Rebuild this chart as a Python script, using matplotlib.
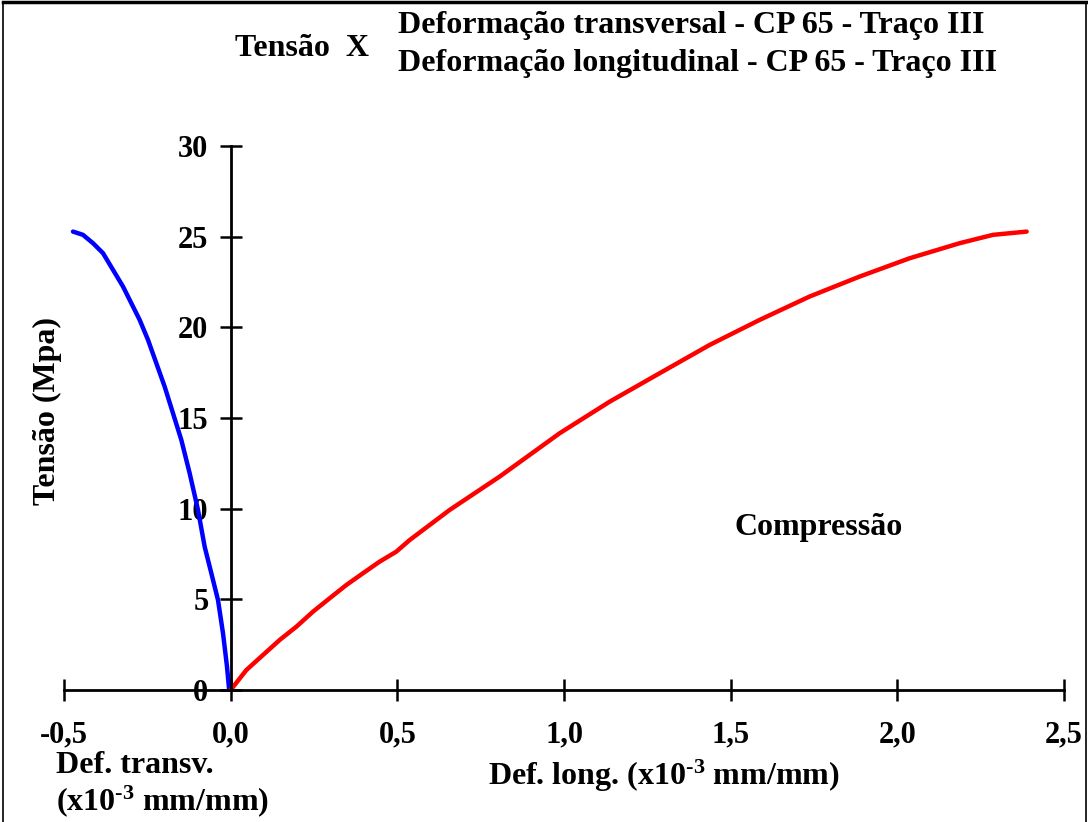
import matplotlib
matplotlib.use("Agg")
import matplotlib.pyplot as plt
from matplotlib.lines import Line2D

plt.rcParams['font.family'] = 'Liberation Serif'
plt.rcParams['font.weight'] = 'bold'
plt.rcParams['mathtext.fontset'] = 'custom'
plt.rcParams['mathtext.rm'] = 'Liberation Serif:bold'
plt.rcParams['mathtext.default'] = 'rm'

# deformacao transversal (x10^-3 mm/mm) x tensao (MPa)
def_transv = [0, -0.005, -0.011, -0.023, -0.038, -0.058, -0.078, -0.098, -0.123,
              -0.148, -0.173, -0.198, -0.223, -0.248, -0.273, -0.298, -0.323,
              -0.353, -0.383, -0.413, -0.443, -0.473]
tensao_transv = [0, 0.09, 1.29, 3.13, 4.96, 6.44, 7.9, 9.93, 11.95,
                 13.79, 15.26, 16.73, 18.02, 19.31, 20.41, 21.33, 22.25,
                 23.17, 24.09, 24.64, 25.1, 25.28]

# deformacao longitudinal
def_long = [0, 0.047, 0.097, 0.147, 0.197, 0.247, 0.297, 0.347, 0.397, 0.447,
            0.497, 0.537, 0.657, 0.807, 0.987, 1.137, 1.287, 1.437, 1.587,
            1.737, 1.887, 2.037, 2.187, 2.287, 2.388]
tensao_long = [0, 1.1, 1.93, 2.76, 3.49, 4.32, 5.06, 5.79, 6.44, 7.08,
               7.63, 8.27, 9.93, 11.77, 14.16, 15.9, 17.47, 19.03, 20.41,
               21.7, 22.8, 23.81, 24.64, 25.1, 25.28]

xticks = [-0.5, 0.0, 0.5, 1.0, 1.5, 2.0, 2.5]
xlabels = ['-0,5', '0,0', '0,5', '1,0', '1,5', '2,0', '2,5']
yticks = [0, 5, 10, 15, 20, 25, 30]

fig = plt.figure(figsize=(10.88, 8.22), dpi=100)
ax = fig.add_axes([64/1088, 132/822, 1000/1088, 544/822])

ax.plot(def_transv, tensao_transv, color='#0000ff', lw=3.2, solid_capstyle='round')
ax.plot(def_long, tensao_long, color='#ff0000', lw=3.2, solid_capstyle='round')

ax.set_xlim(-0.5, 2.5)
ax.set_ylim(0, 30)
ax.spines['left'].set_position(('data', 0))
ax.spines['bottom'].set_position(('data', 0))
ax.spines['top'].set_visible(False)
ax.spines['right'].set_visible(False)
for s in ['left', 'bottom']:
    ax.spines[s].set_linewidth(2)
ax.patch.set_alpha(0)

ax.set_xticks(xticks)
ax.set_xticklabels(xlabels)
ax.set_yticks(yticks)
ax.tick_params(axis='both', direction='inout', length=16, width=1.8, labelsize=22)
ax.tick_params(axis='x', pad=14)
ax.tick_params(axis='y', pad=8)
for lab in ax.get_xticklabels() + ax.get_yticklabels():
    lab.set_fontweight('bold')

fs = 23
fig.text(235/1088, 1 - 48/822, 'Tensão  X', fontsize=fs, ha='left', va='center')
fig.text(398/1088, 1 - 25/822, 'Deformação transversal - CP 65 - Traço III',
         fontsize=fs, ha='left', va='center')
fig.text(398/1088, 1 - 64/822, 'Deformação longitudinal - CP 65 - Traço III',
         fontsize=fs, ha='left', va='center')
fig.text(735/1088, 1 - 527/822, 'Compressão', fontsize=fs, ha='left', va='center')
fig.text(47/1088, 1 - 411/822, 'Tensão (Mpa)', fontsize=fs, rotation=90,
         ha='center', va='center')
fig.text(56/1088, 1 - 765/822, 'Def. transv.', fontsize=fs, ha='left', va='center')
fig.text(56/1088, 1 - 801/822, r'(x10$^{\text{-3}}$ mm/mm)', fontsize=fs,
         ha='left', va='center')
fig.text(664/1088, 1 - 776/822, r'Def. long. (x10$^{\text{-3}}$ mm/mm)', fontsize=fs,
         ha='center', va='center')

# moldura do grafico
fig.add_artist(Line2D([0.003, 0.003], [0, 0.997], transform=fig.transFigure,
                      color='black', lw=1.2))
fig.add_artist(Line2D([0.003, 0.998], [0.997, 0.997], transform=fig.transFigure,
                      color='black', lw=2.5))
fig.add_artist(Line2D([0.998, 0.998], [0, 0.997], transform=fig.transFigure,
                      color='black', lw=1.2))

fig.savefig('out.png', dpi=100)
